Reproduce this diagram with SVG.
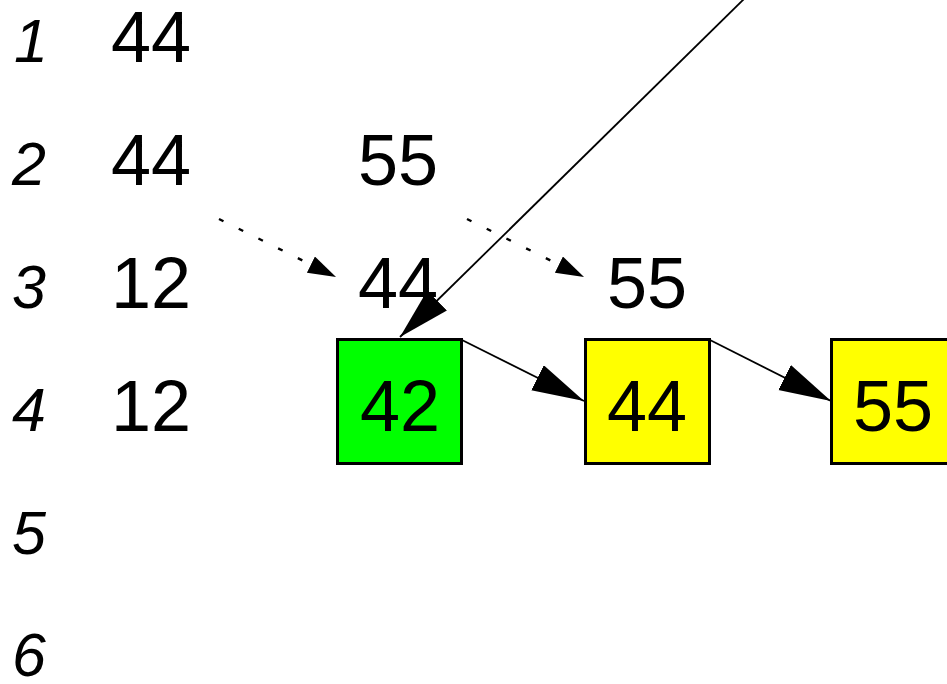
<svg xmlns="http://www.w3.org/2000/svg" width="947" height="684" viewBox="0 0 947 684">
<style>
.num{font-family:"Liberation Sans",Arial,sans-serif;font-size:61px;font-style:italic;fill:#000}
.val{font-family:"Liberation Sans",Arial,sans-serif;font-size:72px;fill:#000;text-anchor:middle}
.box{stroke:#000;stroke-width:3}
.solid{stroke:#000;stroke-width:1.8;fill:none;marker-end:url(#big)}
.dot{stroke:#000;stroke-width:2.4;fill:none;stroke-dasharray:5 17;marker-end:url(#small)}
</style>
<defs>
<marker id="big" markerUnits="userSpaceOnUse" markerWidth="54" markerHeight="30" refX="52" refY="14" orient="auto">
<path d="M0,0 L52,14 L0,28 z" fill="#000"/>
</marker>
<marker id="small" markerUnits="userSpaceOnUse" markerWidth="30" markerHeight="20" refX="28" refY="9" orient="auto">
<path d="M0,0 L28,9 L0,18 z" fill="#000"/>
</marker>
</defs>
<rect width="947" height="684" fill="#fff"/>
<g id="rownumbers">
<text class="num" x="14" y="62">1</text>
<text class="num" x="12" y="185">2</text>
<text class="num" x="12" y="308">3</text>
<text class="num" x="12" y="431">4</text>
<text class="num" x="12" y="554">5</text>
<text class="num" x="12" y="676">6</text>
</g>
<g id="values">
<text class="val" x="151" y="62">44</text>
<text class="val" x="151" y="185">44</text>
<text class="val" x="398" y="185">55</text>
<text class="val" x="151" y="308">12</text>
<text class="val" x="398" y="308">44</text>
<text class="val" x="647" y="308">55</text>
<text class="val" x="151" y="431">12</text>
</g>
<g id="node42">
<rect class="box" x="337.5" y="339.5" width="124" height="124" fill="#00ff00"/>
<text class="val" x="400" y="431">42</text>
</g>
<g id="node44">
<rect class="box" x="585.5" y="339.5" width="124" height="124" fill="#ffff00"/>
<text class="val" x="647" y="431">44</text>
</g>
<g id="node55">
<rect class="box" x="831.5" y="339.5" width="124" height="124" fill="#ffff00"/>
<text class="val" x="893" y="431">55</text>
</g>
<g id="connectors">
<line class="solid" x1="745" y1="-2" x2="400" y2="337"/>
<line class="solid" x1="462" y1="340" x2="584" y2="401"/>
<line class="solid" x1="710" y1="340" x2="831" y2="401"/>
<line class="dot" x1="219" y1="219" x2="336" y2="277"/>
<line class="dot" x1="467" y1="219" x2="584" y2="277"/>
</g>
</svg>
